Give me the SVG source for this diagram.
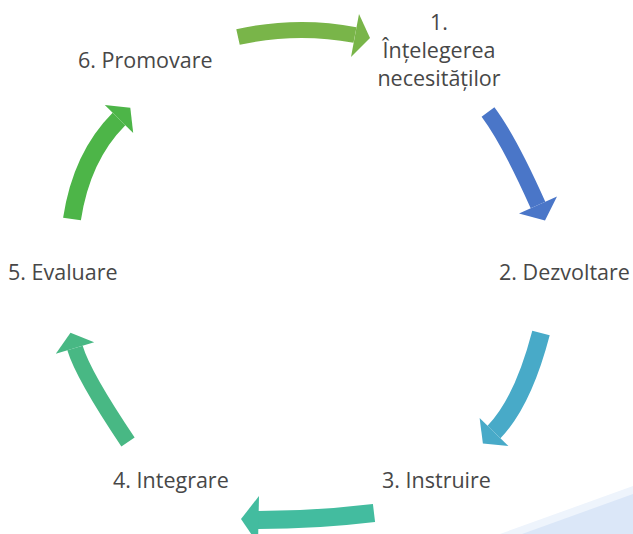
<svg xmlns="http://www.w3.org/2000/svg" width="633" height="534" viewBox="0 0 633 534">
  <style>
    .lbl { font-family: "Open Sans", "Liberation Sans", Arial, sans-serif; font-size: 21.5px; fill: #474747; }
    .body { fill: none; stroke-linecap: butt; stroke-width: 17px; }
    .a1 { stroke: #79b549; } .h1 { fill: #79b549; }
    .a2 { stroke: #4a76c8; } .h2 { fill: #4a76c8; }
    .a3 { stroke: #48aac8; } .h3 { fill: #48aac8; }
    .a4 { stroke: #43bc9f; } .h4 { fill: #43bc9f; }
    .a5 { stroke: #48b884; } .h5 { fill: #48b884; }
    .a6 { stroke: #4db548; } .h6 { fill: #4db548; }
  </style>
  <rect width="633" height="534" fill="#ffffff"/>
  <polygon points="500,534 633,486 633,534" fill="#eef4fc"/>
  <polygon points="522,534 633,494 633,534" fill="#dbe7f8"/>

  <g id="connectors">
    <g id="arrow-1-2">
      <path class="body a2" d="M488,112 Q509,140 538,205" style="stroke-width:16px"/>
      <polygon class="h2" points="557,196.6 545,220.5 519,213.4"/>
    </g>
    <g id="arrow-2-3">
      <path class="body a3" d="M541,333 Q523,402 494,432" style="stroke-width:18px"/>
      <polygon class="h3" points="508.4,445.9 482.9,443.5 479.6,418.1"/>
    </g>
    <g id="arrow-3-4">
      <path class="body a4" d="M374,513 Q316,520 258,520" style="stroke-width:18px"/>
      <polygon class="h4" points="259,496 241,519 258,544"/>
    </g>
    <g id="arrow-4-5">
      <path class="body a5" d="M128,442 Q83,375 75,348" style="stroke-width:16px"/>
      <polygon class="h5" points="94.2,342.3 70.5,332.7 55.8,353.7"/>
    </g>
    <g id="arrow-5-6">
      <path class="body a6" d="M72,219 Q81.5,156.6 119,119" style="stroke-width:18px"/>
      <polygon class="h6" points="133.2,133.1 130.3,107.7 104.8,104.9"/>
    </g>
    <g id="arrow-6-1">
      <path class="body a1" d="M238,37 Q297,24 355,35" style="stroke-width:16px"/>
      <polygon class="h1" points="359,14 370,38 351,57"/>
    </g>
  </g>

  <g id="node-1">
    <text class="lbl" x="439" y="30" text-anchor="middle">1.</text>
    <text class="lbl" x="439" y="58" text-anchor="middle">Înțelegerea</text>
    <text class="lbl" x="439" y="86" text-anchor="middle">necesităților</text>
  </g>
  <g id="node-2">
    <text class="lbl" x="499" y="280">2. Dezvoltare</text>
  </g>
  <g id="node-3">
    <text class="lbl" x="382" y="488">3. Instruire</text>
  </g>
  <g id="node-4">
    <text class="lbl" x="113" y="488">4. Integrare</text>
  </g>
  <g id="node-5">
    <text class="lbl" x="8" y="280">5. Evaluare</text>
  </g>
  <g id="node-6">
    <text class="lbl" x="78" y="68">6. Promovare</text>
  </g>
</svg>
